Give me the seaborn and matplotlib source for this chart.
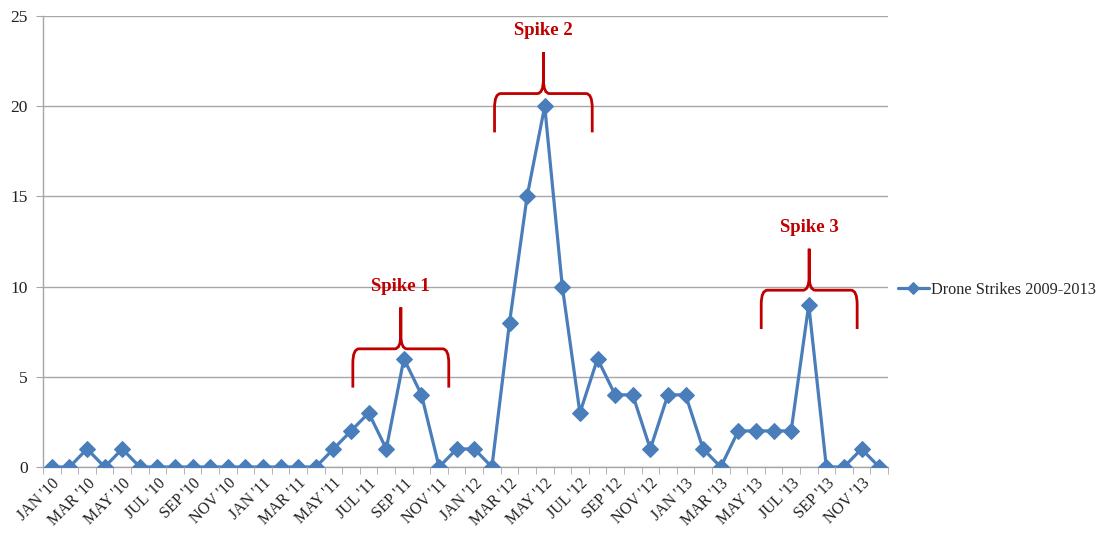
import numpy as np
import pandas as pd
import matplotlib.pyplot as plt
from matplotlib.path import Path
from matplotlib.patches import PathPatch
import seaborn as sns

# Monatsdaten Jan 2010 - Dez 2013
months = ["JAN", "FEB", "MAR", "APR", "MAY", "JUN",
          "JUL", "AUG", "SEP", "OCT", "NOV", "DEC"]
years = ["10", "11", "12", "13"]
month_labels = [f"{m} '{y}" for y in years for m in months]

strikes = [0, 0, 1, 0, 1, 0, 0, 0, 0, 0, 0, 0,
           0, 0, 0, 0, 1, 2, 3, 1, 6, 4, 0, 1,
           1, 0, 8, 15, 20, 10, 3, 6, 4, 4, 1, 4,
           4, 1, 0, 2, 2, 2, 2, 9, 0, 0, 1, 0]

series_name = "Drone Strikes 2009-2013"

# Klammern über den Spitzen (Kategorie-Index, y-Werte)
spike_labels = ["Spike 1", "Spike 2", "Spike 3"]
spike_start = [17.1, 25.15, 40.3]
spike_end = [22.55, 30.7, 45.75]
spike_level = [6.55, 20.7, 9.8]

BLUE = "#4A7EBB"
RED = "#C00000"
GRID = "#A6A6A6"

df = pd.DataFrame({"idx": np.arange(len(strikes)), "strikes": strikes,
                   "month": month_labels})

sns.set_style("white")
plt.rcParams["font.family"] = ["Liberation Serif", "DejaVu Serif"]

fig = plt.figure(figsize=(10.98, 5.46), dpi=100)
ax = fig.add_axes([0.0392, 0.1447, 0.7695, 0.826])

sns.lineplot(data=df, x="idx", y="strikes", ax=ax, color=BLUE, linewidth=2.3,
             marker="D", markersize=7.8, markeredgecolor=BLUE,
             label=series_name, zorder=3)

ax.set_xlim(-0.5, len(strikes) - 0.5)
ax.set_ylim(0, 25)
ax.set_yticks([0, 5, 10, 15, 20, 25])
ax.yaxis.grid(True, color=GRID, linewidth=1)
ax.set_axisbelow(True)
ax.set_xlabel("")
ax.set_ylabel("")

for s in ["top", "right"]:
    ax.spines[s].set_visible(False)
for s in ["left", "bottom"]:
    ax.spines[s].set_color(GRID)
    ax.spines[s].set_linewidth(1)

# x: Beschriftung jeden 2. Monat, Striche zwischen den Kategorien
ax.set_xticks(df["idx"][::2])
ax.set_xticklabels(df["month"][::2], rotation=45, ha="right",
                   rotation_mode="anchor", fontsize=11.5, color="#222222")
ax.set_xticks(np.arange(len(strikes) + 1) - 0.5, minor=True)
ax.tick_params(axis="x", which="major", length=0, pad=6)
ax.tick_params(axis="x", which="minor", length=5, color=GRID, direction="out")
ax.tick_params(axis="y", length=5, color=GRID, direction="out", labelsize=12.5,
               labelcolor="#222222", pad=6)
ax.tick_params(axis="both", bottom=True, left=True, which="both")

# Klammern
rx, ry = 0.35, 0.8
for lab, x0, x1, lv in zip(spike_labels, spike_start, spike_end, spike_level):
    xc = (x0 + x1) / 2
    low = lv - 2.15
    top = lv + 2.3
    verts = [(x0, low), (x0, lv - ry), (x0, lv), (x0 + rx, lv),
             (xc - rx, lv), (xc, lv), (xc, lv + ry), (xc, top),
             (x1, low), (x1, lv - ry), (x1, lv), (x1 - rx, lv),
             (xc + rx, lv), (xc, lv), (xc, lv + ry), (xc, top)]
    codes = [Path.MOVETO, Path.LINETO, Path.CURVE3, Path.CURVE3,
             Path.LINETO, Path.CURVE3, Path.CURVE3, Path.LINETO] * 2
    ax.add_patch(PathPatch(Path(verts, codes), fill=False, edgecolor=RED,
                           linewidth=2, zorder=4, clip_on=False))
    ax.text(xc, top + 0.7, lab, color=RED, fontsize=13.5, fontweight="bold",
            ha="center", va="bottom")

leg = ax.legend(loc="center left", bbox_to_anchor=(1.0, 0.393), frameon=False,
                fontsize=11.7, handlelength=1.9, handletextpad=0.15,
                borderaxespad=0.2)
for h in leg.legend_handles:
    h.set_markersize(6)

plt.savefig("out.png", dpi=100)
